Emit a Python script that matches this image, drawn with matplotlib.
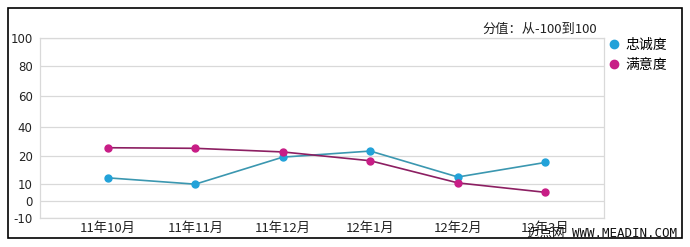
import numpy as np
import matplotlib
matplotlib.use("Agg")
import matplotlib.pyplot as plt
from matplotlib.patches import Rectangle
from matplotlib.lines import Line2D

plt.rcParams['font.family'] = ['Noto Sans CJK SC', 'DejaVu Sans']

months = ['11年10月', '11年11月', '11年12月', '12年1月', '12年2月', '12年3月']
loyalty = [12.2, 9.9, 19.6, 23.4, 12.5, 17.7]        # 忠诚度
satisfaction = [25.7, 25.3, 22.8, 18.3, 10.4, 5.1]   # 满意度
yticks = [-10, 0, 10, 20, 40, 60, 80, 100]

# the original axis is not evenly spaced, so map it piecewise
knot_vals = np.array([-10, 0, 10, 20, 40, 60, 80, 100], dtype=float)
knot_pos = np.array([0, 17, 34, 62, 91, 122, 152.5, 180.5])

def fwd(v):
    return np.interp(v, knot_vals, knot_pos)

def inv(p):
    return np.interp(p, knot_pos, knot_vals)

fig = plt.figure(figsize=(6.9, 2.47), dpi=100)
ax = fig.add_axes([39.5 / 690, 1 - 218 / 247, (604 - 39.5) / 690, (218 - 37.5) / 247])
ax.set_yscale('function', functions=(fwd, inv))

x = np.arange(len(months))
cyan_line, cyan_mk = '#3b97b0', '#22a2d9'
mag_line, mag_mk = '#8c1f62', '#c81d86'
ax.plot(x, loyalty, color=cyan_line, lw=1.2, zorder=3)
ax.plot(x, loyalty, 'o', color=cyan_mk, ms=5, zorder=4)
ax.plot(x, satisfaction, color=mag_line, lw=1.2, zorder=3)
ax.plot(x, satisfaction, 'o', color=mag_mk, ms=5, zorder=4)

ax.set_xlim(-0.78, 5.67)
ax.set_ylim(-10, 100)
ax.set_yticks(yticks)
ax.set_yticklabels([str(t) for t in yticks], fontsize=8.5, family='DejaVu Sans', color='#222222')
ax.set_xticks(x)
ax.set_xticklabels(months, fontsize=9.5, color='#222222')
ax.tick_params(axis='both', length=0)
ax.tick_params(axis='y', pad=5)
ax.tick_params(axis='x', pad=3)
ax.grid(axis='y', color='#d9d9d9', lw=0.9)
for s in ax.spines.values():
    s.set_color('#d9d9d9')
    s.set_linewidth(0.9)

fig.text(597 / 690, 1 - 29 / 247, '分值：从-100到100', ha='right', va='center',
         fontsize=9.5, color='#222222')

handles = [Line2D([], [], marker='o', ls='', color=cyan_mk, ms=6),
           Line2D([], [], marker='o', ls='', color=mag_mk, ms=6)]
fig.legend(handles, ['忠诚度', '满意度'], loc='upper left',
           bbox_to_anchor=(596 / 690, 1 - 25 / 247), frameon=False,
           fontsize=10, handlelength=0.8, handletextpad=0.4, labelspacing=0.45)

fig.text(677 / 690, 1 - 233 / 247, '迈点网 WWW.MEADIN.COM', ha='right', va='center',
         fontsize=9, family=['DejaVu Sans Mono', 'Noto Sans CJK SC'], color='#111111')

fig.patches.append(Rectangle((8 / 690, 1 - 238 / 247), 674 / 690, 230 / 247,
                             transform=fig.transFigure, fill=False, ec='black', lw=1.2))

fig.savefig('out.png', dpi=100)
